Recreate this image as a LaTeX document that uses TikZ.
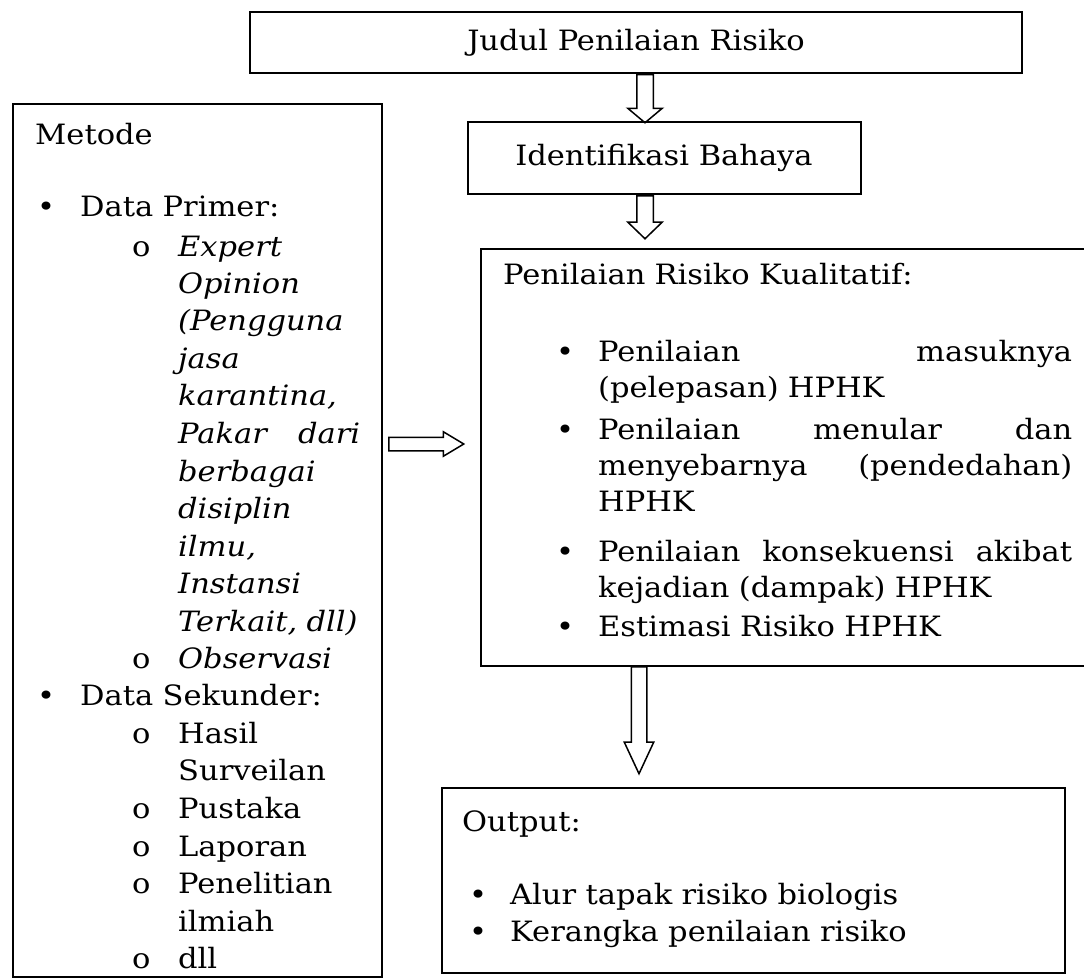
\documentclass[tikz,border=0pt]{standalone}
\usepackage{fontspec}
\setmainfont{DejaVu Serif}[FakeStretch=1.09]
\usetikzlibrary{shapes.arrows}

\newcommand{\bul}[1]{\hspace*{2pt}\makebox[43pt][l]{\textbullet}#1}
\newcommand{\sbul}[1]{\hspace*{97pt}\makebox[46pt][l]{o}#1}
\newcommand{\scont}[1]{\hspace*{143pt}#1}
\newcommand{\kbul}[1]{\hspace*{53pt}\makebox[42pt][l]{\textbullet}#1}
\newcommand{\kcont}[1]{\hspace*{95pt}#1}
\newcommand{\obul}[1]{\hspace*{7pt}\makebox[41pt][l]{\textbullet}#1}
\newcommand{\rata}[2]{\hbox to #1{#2}}

\begin{document}
\begin{tikzpicture}[x=1pt, y=-1pt, every node/.style={font=\fontsize{28}{37.5}\selectfont},
  box/.style={draw=black, line width=2pt, rectangle, inner sep=0pt},
  txt/.style={anchor=base west, align=left, inner sep=0pt, text width=#1},
  blok/.style={draw=black, line width=1.5pt, single arrow, inner xsep=0pt, anchor=tail}]
\useasboundingbox (0,0) rectangle (1084,979);
			\node[box, minimum width=772, minimum height=61] (judul) at (636,43) {Judul Penilaian Risiko};
			\node[box, minimum width=393, minimum height=72] (ident) at (664,158) {Identifikasi Bahaya};
			\node[box, anchor=north west, minimum width=615, minimum height=417] (kual) at (480,248) {};
			\node[box, anchor=north west, minimum width=369, minimum height=873] (metode) at (12,103) {};
			\node[box, anchor=north west, minimum width=623, minimum height=185] (output) at (441,787) {};
			
			\node[blok, rotate=-90, inner ysep=7.5pt, minimum height=48, minimum width=33, single arrow head extend=9, single arrow tip angle=100] (p1) at (645,74) {};
			\node[blok, rotate=-90, inner ysep=7.5pt, minimum height=43, minimum width=33, single arrow head extend=9, single arrow tip angle=92] (p2) at (645,195) {};
			\node[blok, rotate=-90, inner ysep=7pt, minimum height=107, minimum width=28, single arrow head extend=7, single arrow tip angle=50] (p3) at (639,666) {};
			\node[blok, inner ysep=6pt, minimum height=75, minimum width=23, single arrow head extend=5.5, single arrow tip angle=62] (p4) at (388,444) {};
			
			\node[txt=330pt] (metodeteks) at (35,144) {Metode\\[34.5pt]
				\bul{Data Primer:}\\[2.5pt]
				\sbul{\textit{Expert}}\\
				\scont{\textit{Opinion}}\\
				\scont{\textit{(Pengguna}}\\
				\scont{\textit{jasa}}\\
				\scont{\textit{karantina,}}\\
				\scont{\rata{182pt}{\textit{Pakar\hfill dari}}}\\
				\scont{\textit{berbagai}}\\
				\scont{\textit{disiplin}}\\
				\scont{\textit{ilmu,}}\\
				\scont{\textit{Instansi}}\\
				\scont{\textit{Terkait, dll)}}\\
				\sbul{\textit{Observasi}}\\
				\bul{Data Sekunder:}\\
				\sbul{Hasil}\\
				\scont{Surveilan}\\
				\sbul{Pustaka}\\
				\sbul{Laporan}\\
				\sbul{Penelitian}\\
				\scont{ilmiah}\\
				\sbul{dll}};
			
			\node[txt=580pt, font=\fontsize{28}{36}\selectfont] (kualteks) at (503,284) {Penilaian Risiko Kualitatif:\\[41pt]
				\kbul{\rata{474pt}{Penilaian\hfill masuknya}}\\
				\kcont{(pelepasan) HPHK}\\[6pt]
				\kbul{\rata{474pt}{Penilaian\hfill menular\hfill dan}}\\
				\kcont{\rata{474pt}{menyebarnya\hfill (pendedahan)}}\\
				\kcont{HPHK}\\[14pt]
				\kbul{\rata{474pt}{Penilaian\hfill konsekuensi\hfill akibat}}\\
				\kcont{kejadian (dampak) HPHK}\\[3pt]
				\kbul{Estimasi Risiko HPHK}};
			
			\node[txt=580pt] (outputteks) at (462,831) {Output:\\[35.5pt]
				\obul{Alur tapak risiko biologis}\\
				\obul{Kerangka penilaian risiko}};
			\end{tikzpicture}
\end{document}
